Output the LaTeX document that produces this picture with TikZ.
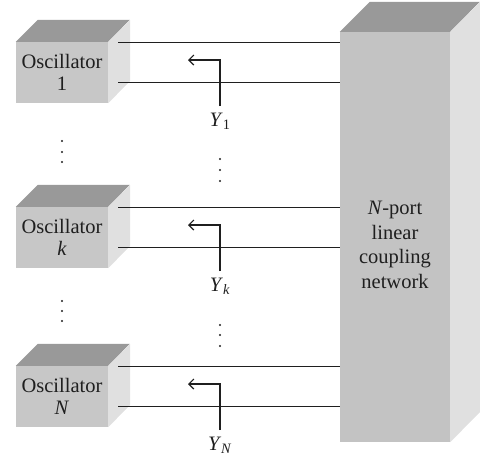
\documentclass[tikz,border=0pt]{standalone}
\usepackage{fontspec}
\setmainfont{Liberation Serif}
\usetikzlibrary{arrows.meta}

\definecolor{frontgray}{gray}{0.78}
\definecolor{topgray}{gray}{0.6}
\definecolor{sidegray}{gray}{0.88}
\definecolor{inkgray}{gray}{0.12}

\begin{document}
\begin{tikzpicture}
  [x=1pt,y=-1pt,
   every node/.style={text=inkgray,font=\fontsize{20.5}{22}\selectfont},
   osc/.style={rectangle,fill=frontgray,minimum width=92pt,minimum height=61pt,
     inner sep=0pt,align=center},
   panel/.style={rectangle,fill=frontgray!98!black,minimum width=110pt,
     minimum height=410pt,inner sep=0pt},
   wire/.style={line width=1.2pt,draw=inkgray},
   ylabel/.style={anchor=north,inner xsep=2pt,inner ysep=7pt},
   dot/.style={circle,fill=inkgray,inner sep=0pt,minimum size=2.4pt}]

  \useasboundingbox (0,0) rectangle (480,459);

  % coupling network
  \node[panel] (net) at (395,237) {};
  \fill[topgray] (net.north west) -- ++(30,-30) -- ++(110,0) -- (net.north east) -- cycle;
  \fill[sidegray] (net.north east) -- ++(30,-30) -- ++(0,410) -- (net.south east) -- cycle;
  \node[align=center,font=\fontsize{20.5}{24.5}\selectfont] (netlabel) at (395,245)
    {\textit{N}-port\\linear\\coupling\\network};

  % oscillators and ports
  \foreach \i/\top/\lab in {1/42/1, k/207/\textit{k}, N/366/\textit{N}} {
    \node[osc] (o\i) at (62,\top+30.5) {Oscillator\\\lab};
    \fill[topgray] (o\i.north west) -- ++(22,-22) -- ++(92,0) -- (o\i.north east) -- cycle;
    \fill[sidegray] (o\i.north east) -- ++(22,-22) -- ++(0,61) -- (o\i.south east) -- cycle;

    \coordinate (pa\i) at ([shift={(10,1)}]o\i.north east);
    \coordinate (pb\i) at ([shift={(10,41)}]o\i.north east);
    \draw[wire] (pa\i) -- (pa\i -| net.west);
    \draw[wire] (pb\i) -- (pb\i -| net.west);

    \node[ylabel] (y\i) at (220,\top+64) {\textit{Y}\textsubscript{\lab}};
    \coordinate (t\i) at (188,\top+18);
    \draw[wire,-{Straight Barb[length=5pt,width=10pt]}] (y\i.north) |- (t\i);
  }

  % dots
  \foreach \x/\y [count=\n] in {62/141,62/152,62/162, 62/301,62/311,62/321,
                                220/159,220/170,220/181, 220/325,220/335,220/346}
    \node[dot] (d\n) at (\x,\y) {};

\end{tikzpicture}
\end{document}
